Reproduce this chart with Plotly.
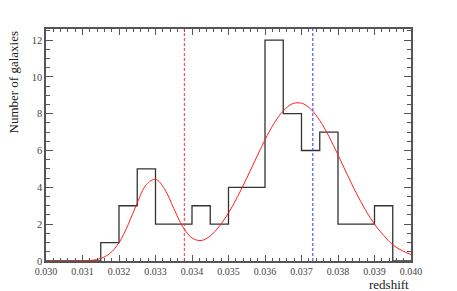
import plotly.graph_objects as go

# histogram of galaxy redshifts (bin width 0.0005)
bin_edges = [0.0300, 0.0305, 0.0310, 0.0315, 0.0320, 0.0325, 0.0330, 0.0335, 0.0340, 0.0345,
             0.0350, 0.0355, 0.0360, 0.0365, 0.0370, 0.0375, 0.0380, 0.0385, 0.0390, 0.0395, 0.0400]
counts = [0, 0, 0, 1, 3, 5, 2, 2, 3, 2, 4, 4, 12, 8, 6, 7, 2, 2, 3, 0]

# double gaussian fit
fit_z = [0.03000, 0.03025, 0.03050, 0.03075, 0.03100, 0.03125, 0.03150, 0.03175, 0.03200, 0.03225,
         0.03250, 0.03275, 0.03300, 0.03325, 0.03350, 0.03375, 0.03400, 0.03425, 0.03450, 0.03475,
         0.03500, 0.03525, 0.03550, 0.03575, 0.03600, 0.03625, 0.03650, 0.03675, 0.03700, 0.03725,
         0.03750, 0.03775, 0.03800, 0.03825, 0.03850, 0.03875, 0.03900, 0.03925, 0.03950, 0.03975,
         0.04000]
fit_n = [0.0, 0.0, 0.0002, 0.0015, 0.008, 0.037, 0.137, 0.41, 0.99, 1.97,
         3.16, 4.15, 4.44, 3.9, 2.86, 1.85, 1.25, 1.11, 1.36, 1.89,
         2.61, 3.5, 4.5, 5.55, 6.58, 7.48, 8.15, 8.54, 8.57, 8.26,
         7.63, 6.77, 5.76, 4.71, 3.69, 2.78, 2.0, 1.39, 0.88, 0.57,
         0.35]

# vertical markers
red_mark_z = 0.03379
blue_mark_z = 0.03731

font_name = "Times New Roman, Liberation Serif, serif"
axis_col = "#555555"

fig = go.Figure()

fig.add_trace(go.Scatter(x=bin_edges, y=counts + [counts[-1]], mode="lines",
                         line=dict(color="#333333", width=1.3, shape="hv"),
                         showlegend=False, hoverinfo="skip"))
fig.add_trace(go.Scatter(x=fit_z, y=fit_n, mode="lines",
                         line=dict(color="#ff2020", width=1, shape="spline"),
                         showlegend=False))

fig.add_shape(type="line", xref="x", yref="paper", x0=red_mark_z, x1=red_mark_z, y0=0, y1=1,
              line=dict(color="#ff3030", width=1, dash="3px,2px"))
fig.add_shape(type="line", xref="x", yref="paper", x0=blue_mark_z, x1=blue_mark_z, y0=0, y1=1,
              line=dict(color="#3030ff", width=1, dash="3px,2px"))

fig.update_xaxes(range=[0.030, 0.040], dtick=0.001, tick0=0.030, tickformat=".3f",
                 ticks="inside", ticklen=6, tickcolor=axis_col, showline=True, linecolor=axis_col,
                 linewidth=1.5, mirror="ticks", showgrid=False, zeroline=False,
                 minor=dict(dtick=0.0002, ticks="inside", ticklen=3, tickcolor=axis_col),
                 tickfont=dict(family=font_name, size=10, color="#444444"))
fig.update_yaxes(range=[0, 12.6], dtick=2, tick0=0,
                 ticks="inside", ticklen=7, tickcolor=axis_col, showline=True, linecolor=axis_col,
                 linewidth=1.5, mirror="ticks", showgrid=False, zeroline=False,
                 minor=dict(dtick=0.5, ticks="inside", ticklen=4, tickcolor=axis_col),
                 tickfont=dict(family=font_name, size=10.5, color="#444444"))

fig.add_annotation(text="Number of galaxies", xref="paper", yref="paper", x=0, y=1,
                   xshift=-33, xanchor="center", yanchor="top", textangle=-90, showarrow=False,
                   font=dict(family=font_name, size=13, color="#222222"))
fig.add_annotation(text="redshift", xref="paper", yref="paper", x=1, y=0,
                   yshift=-23, xanchor="right", yanchor="middle", showarrow=False,
                   font=dict(family=font_name, size=13, color="#222222"))

fig.update_layout(width=457, height=291, margin=dict(l=46, r=46, t=29, b=30),
                  font=dict(family=font_name),
                  plot_bgcolor="white", paper_bgcolor="white")

# the page has a default body margin, drop it so the figure sits at the top-left
fig.write_html("out.html", config={"displayModeBar": False},
               post_script="document.body.style.margin='0px';")
